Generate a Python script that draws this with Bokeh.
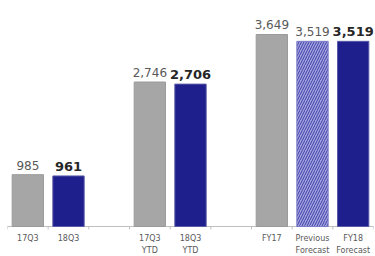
from bokeh.plotting import figure
from bokeh.models import ColumnDataSource, Range1d
from bokeh.embed import file_html
from bokeh.resources import INLINE
from bokeh.core.properties import value

# Data
categories = ["17Q3", "18Q3", "", "17Q3\nYTD", "18Q3\nYTD", "", "FY17", "Previous\nForecast", "FY18\nForecast"]
slots = [0, 1, 3, 4, 6, 7, 8]
values = [985, 961, 2746, 2706, 3649, 3519, 3519]
value_labels = ["985", "961", "2,746", "2,706", "3,649", "3,519", "3,519"]
kinds = ["prior", "current", "prior", "current", "prior", "forecast", "current"]

GRAY = "#a6a6a6"
NAVY = "#1e1e8c"

p = figure(width=375, height=256, output_backend="svg", toolbar_location=None,
           x_range=Range1d(-0.5, 8.5), y_range=Range1d(-570, 4295),
           min_border_left=7, min_border_right=2, min_border_top=0, min_border_bottom=0)
p.outline_line_color = None
p.grid.grid_line_color = None
p.axis.visible = False
p.background_fill_color = "white"

def sub(kind):
    idx = [i for i, k in enumerate(kinds) if k == kind]
    return ColumnDataSource(dict(x=[slots[i] for i in idx], top=[values[i] for i in idx],
                                 lab=[value_labels[i] for i in idx]))

src_prior = sub("prior")
src_cur = sub("current")
src_fc = sub("forecast")

# axis line and boundary ticks
p.segment(x0=[-0.55], y0=[0], x1=[8.55], y1=[0], line_color="#bfbfbf", line_width=1)
bounds = [i - 0.5 for i in range(10)]
p.segment(x0=bounds, y0=[0] * len(bounds), x1=bounds, y1=[-55] * len(bounds),
          line_color="#bfbfbf", line_width=1)

W = 0.77
p.vbar(x="x", top="top", width=W, source=src_prior, fill_color=GRAY, line_color="#9a9a9a", line_width=1)
p.vbar(x="x", top="top", width=W, source=src_cur, fill_color=NAVY, line_color="#5a5aa8", line_width=1)
p.vbar(x="x", top="top", width=W, source=src_fc, fill_color="#a4a4e0", line_color="#7c7cc8",
       hatch_pattern="/", hatch_color="#3c3ca8", hatch_scale=5, hatch_weight=1)

for src, bold in ((src_prior, False), (src_fc, False), (src_cur, True)):
    p.text(x="x", y="top", text="lab", source=src, text_align="center", text_baseline="bottom",
           y_offset=-5, text_font=value("DejaVu Sans"),
           text_font_size="13px" if bold else "12px",
           text_font_style="bold" if bold else "normal",
           text_color="#262626" if bold else "#595959")

# category labels
cat_src = ColumnDataSource(dict(x=list(range(len(categories))), y=[0] * len(categories), t=categories))
p.text(x="x", y="y", text="t", source=cat_src, text_align="center", text_baseline="top",
       y_offset=7, text_font=value("DejaVu Sans"), text_font_size="8px",
       text_color="#595959", text_line_height=1.4)

open("out.html", "w").write(file_html(p, INLINE))
